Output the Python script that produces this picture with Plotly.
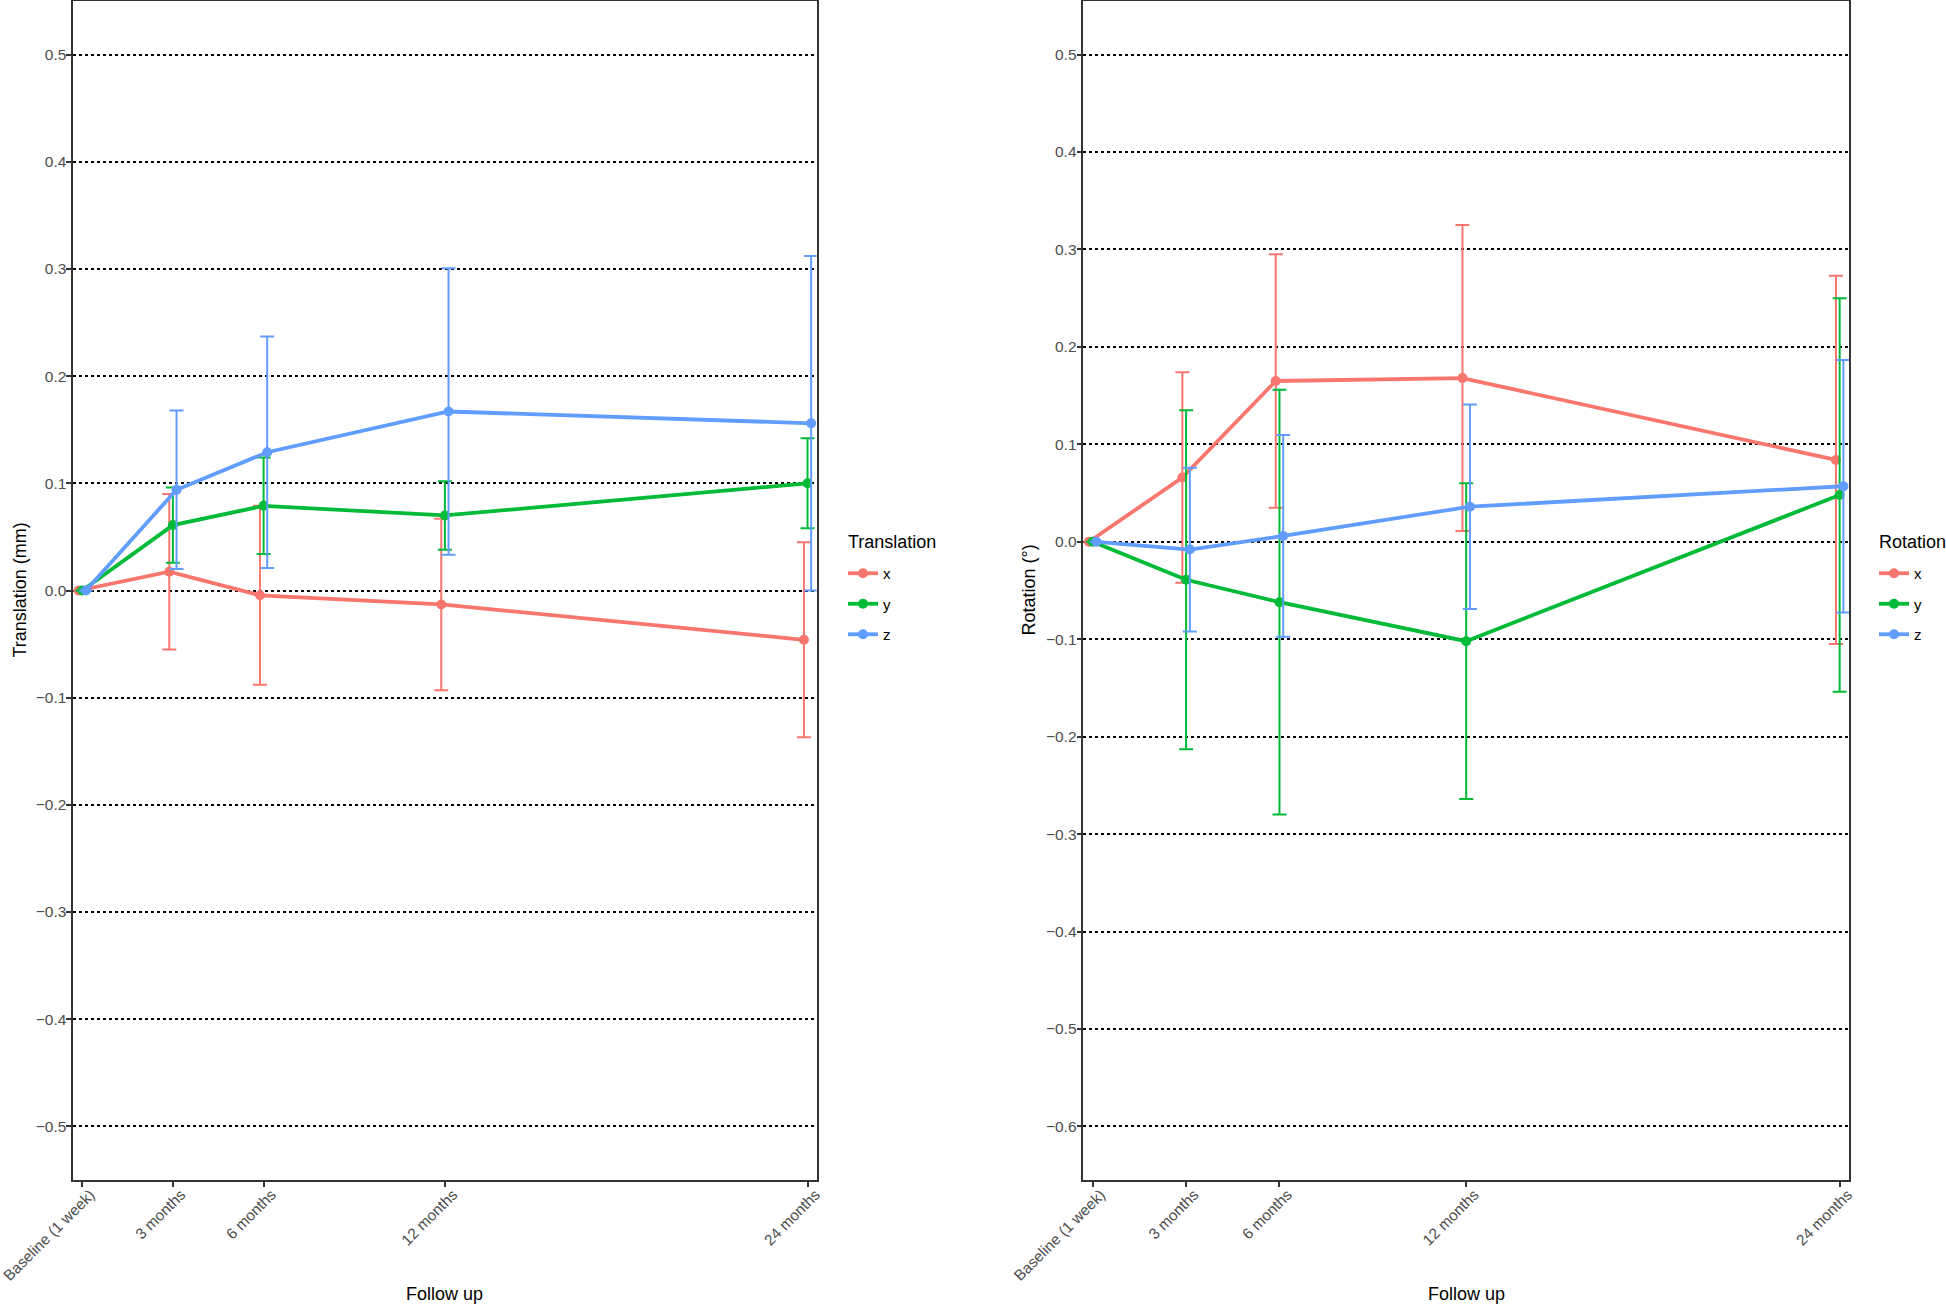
import plotly.graph_objects as go

# ---- data ----
months = [0, 3, 6, 12, 24]
tick_labels = ["Baseline (1 week)", "3 months", "6 months", "12 months", "24 months"]
axes_names = ["x", "y", "z"]

trans_x = [0, 0.0175, -0.0045, -0.013, -0.046]
trans_x_err = [0, 0.0725, 0.0835, 0.080, 0.091]
trans_y = [0, 0.061, 0.079, 0.070, 0.100]
trans_y_err = [0, 0.035, 0.045, 0.032, 0.042]
trans_z = [0, 0.094, 0.129, 0.167, 0.156]
trans_z_err = [0, 0.074, 0.108, 0.1336, 0.156]

rot_x = [0, 0.066, 0.165, 0.168, 0.084]
rot_x_err = [0, 0.108, 0.130, 0.157, 0.189]
rot_y = [0, -0.039, -0.062, -0.102, 0.048]
rot_y_err = [0, 0.174, 0.218, 0.162, 0.202]
rot_z = [0, -0.008, 0.006, 0.036, 0.057]
rot_z_err = [0, 0.084, 0.1035, 0.105, 0.1295]

colors = ["#F8766D", "#00BA38", "#619CFF"]
dodge = [-0.12, 0.0, 0.12]

FONT = "Liberation Sans, Arial, sans-serif"
W, H = 1946, 1307

fig = go.Figure()

panels = [
    ("x", "y", "legend", "t", [trans_x, trans_y, trans_z], [trans_x_err, trans_y_err, trans_z_err]),
    ("x2", "y2", "legend2", "r", [rot_x, rot_y, rot_z], [rot_x_err, rot_y_err, rot_z_err]),
]
for xa, ya, leg, grp, means, errs in panels:
    for i, name in enumerate(axes_names):
        fig.add_trace(go.Scatter(
            x=[m + dodge[i] for m in months], y=means[i],
            mode="lines+markers", name=name,
            xaxis=xa, yaxis=ya, legend=leg, legendgroup=grp + name,
            line=dict(color=colors[i], width=3.8),
            marker=dict(color=colors[i], size=10),
            error_y=dict(type="data", array=errs[i], visible=True,
                         color=colors[i], thickness=2, width=7),
        ))

axis_common = dict(
    showline=True, linecolor="#333333", linewidth=1.5, mirror=True,
    ticks="outside", ticklen=5, tickcolor="#333333", tickwidth=1.5,
    zeroline=False, automargin=False, ticklabeloverflow="allow",
)
xcommon = dict(axis_common, tickvals=months, ticktext=tick_labels, tickangle=-45,
               range=[-0.3, 24.3], showgrid=False, ticklabelstandoff=-7, ticklabelshift=8,
               tickfont=dict(family=FONT, size=15.3, color="#4D4D4D"))
ycommon = dict(axis_common, showgrid=True, gridcolor="black", gridwidth=2, griddash="dot",
               tickformat=".1f", ticklabelstandoff=-3,
               tickfont=dict(family=FONT, size=15.5, color="#4D4D4D"))

ydom = [1 - 1180 / H, 1 - 1 / H]
legend_common = dict(xanchor="left", yanchor="top", y=1 - 557 / H,
                     font=dict(family=FONT, size=15, color="black"), itemwidth=30,
                     tracegroupgap=8, bgcolor="rgba(0,0,0,0)")
fig.update_layout(
    width=W, height=H,
    margin=dict(l=0, r=0, t=0, b=0, autoexpand=False),
    paper_bgcolor="white", plot_bgcolor="white",
    font=dict(family=FONT, color="black"),
    xaxis=dict(xcommon, domain=[73.2 / W, 816.6 / W], anchor="y"),
    xaxis2=dict(xcommon, domain=[1083.4 / W, 1849 / W], anchor="y2"),
    yaxis=dict(ycommon, domain=ydom, anchor="x", range=[-0.55, 0.55],
               tickvals=[-0.5, -0.4, -0.3, -0.2, -0.1, 0, 0.1, 0.2, 0.3, 0.4, 0.5]),
    yaxis2=dict(ycommon, domain=ydom, anchor="x2", range=[-0.655, 0.555],
                tickvals=[-0.6, -0.5, -0.4, -0.3, -0.2, -0.1, 0, 0.1, 0.2, 0.3, 0.4, 0.5]),
    legend=dict(legend_common, x=843 / W),
    legend2=dict(legend_common, x=1874 / W),
    showlegend=True,
    annotations=[
        dict(text="Translation", x=846 / W, y=1 - 542 / H, xref="paper", yref="paper",
             xanchor="left", yanchor="middle", showarrow=False,
             font=dict(family=FONT, size=18, color="black")),
        dict(text="Rotation", x=1877 / W, y=1 - 542 / H, xref="paper", yref="paper",
             xanchor="left", yanchor="middle", showarrow=False,
             font=dict(family=FONT, size=18, color="black")),
        dict(text="Follow up", x=(73.2 + 816.6) / 2 / W, y=1 - 1294 / H, xref="paper", yref="paper",
             xanchor="center", yanchor="middle", showarrow=False,
             font=dict(family=FONT, size=18, color="black")),
        dict(text="Follow up", x=(1083.4 + 1849) / 2 / W, y=1 - 1294 / H, xref="paper", yref="paper",
             xanchor="center", yanchor="middle", showarrow=False,
             font=dict(family=FONT, size=18, color="black")),
        dict(text="Translation (mm)", x=20 / W, y=(ydom[0] + ydom[1]) / 2, xref="paper", yref="paper",
             xanchor="center", yanchor="middle", showarrow=False, textangle=-90,
             font=dict(family=FONT, size=18, color="black")),
        dict(text="Rotation (°)", x=1029 / W, y=(ydom[0] + ydom[1]) / 2, xref="paper", yref="paper",
             xanchor="center", yanchor="middle", showarrow=False, textangle=-90,
             font=dict(family=FONT, size=18, color="black")),
    ],
)

fig.write_html("out.html", config={"displayModeBar": False},
               post_script="document.body.style.margin='0px';")
